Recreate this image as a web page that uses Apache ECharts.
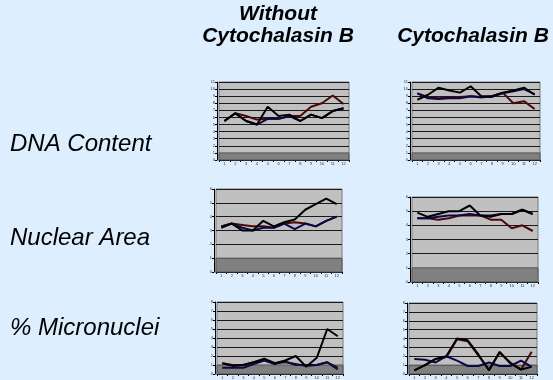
<!DOCTYPE html>
<html>
<head>
<meta charset="utf-8">
<script src="https://cdn.jsdelivr.net/npm/echarts@6/dist/echarts.min.js"></script>
<style>
  html, body { margin: 0; padding: 0; background: #DDEEFF; }
  #chart { width: 553px; height: 380px; }
</style>
</head>
<body>
<div id="chart"></div>
<script>
// Twelve sampling points along each x axis
const categories = ['1', '2', '3', '4', '5', '6', '7', '8', '9', '10', '11', '12'];

// Row and column captions
const rowLabels = ['DNA Content', 'Nuclear Area', '% Micronuclei'];
const columnLabels = ['Without\nCytochalasin B', 'Cytochalasin B'];

// Axis tops (value 0..1 on each axis is the floor band)
const dnaAxisMax = 11;
const areaAxisMax = 6;
const microAxisMax = 8;

// DNA content, without cytochalasin B
const dnaWithoutMaroon = [5.5, 6.6, 6.2, 5.7, 5.8, 5.8, 6.2, 6.2, 7.5, 8.0, 9.1, 7.9];
const dnaWithoutNavy   = [5.5, 6.6, 5.5, 5.0, 5.8, 5.8, 6.2, 5.5, 6.4, 5.9, 6.9, 7.3];
const dnaWithoutBlack  = [5.5, 6.6, 5.5, 5.0, 7.5, 6.2, 6.4, 5.5, 6.4, 5.9, 6.9, 7.3];

// DNA content, with cytochalasin B
const dnaCbMaroon = [9.4, 8.9, 8.7, 8.8, 8.9, 9.0, 8.8, 9.0, 9.5, 8.0, 8.3, 7.2];
const dnaCbNavy   = [9.4, 8.7, 8.6, 8.7, 8.7, 9.0, 8.9, 8.9, 9.4, 9.7, 10.0, 9.3];
const dnaCbBlack  = [8.5, 9.2, 10.2, 9.8, 9.5, 10.4, 9.0, 9.0, 9.5, 9.8, 10.2, 9.2];

// Nuclear area, without cytochalasin B
const areaWithoutMaroon = [3.3, 3.5, 3.4, 3.3, 3.3, 3.2, 3.5, 3.6, 3.5, 3.3, 3.7, 4.0];
const areaWithoutNavy   = [3.3, 3.5, 3.2, 3.0, 3.2, 3.2, 3.5, 3.1, 3.5, 3.3, 3.7, 4.0];
const areaWithoutBlack  = [3.2, 3.5, 3.0, 3.0, 3.7, 3.3, 3.6, 3.8, 4.5, 4.9, 5.3, 4.9];

// Nuclear area, with cytochalasin B
const areaCbMaroon = [4.5, 4.5, 4.4, 4.5, 4.7, 4.7, 4.7, 4.4, 4.4, 3.8, 4.0, 3.6];
const areaCbNavy   = [4.5, 4.5, 4.6, 4.7, 4.7, 4.8, 4.7, 4.7, 4.8, 4.8, 5.1, 4.8];
const areaCbBlack  = [4.9, 4.6, 4.8, 5.0, 5.0, 5.4, 4.7, 4.6, 4.8, 4.8, 5.1, 4.8];

// % micronuclei, without cytochalasin B
const microWithoutMaroon = [1.2, 1.0, 1.0, 1.3, 1.6, 1.2, 1.3, 1.1, 0.9, 1.0, 1.3, 0.7];
const microWithoutNavy   = [0.7, 0.7, 0.7, 1.1, 1.5, 1.1, 1.4, 1.0, 1.0, 1.0, 1.3, 0.5];
const microWithoutBlack  = [1.2, 0.9, 1.0, 1.3, 1.7, 1.2, 1.5, 2.0, 0.8, 1.8, 5.0, 4.2];

// % micronuclei, with cytochalasin B
const microCbMaroon = [0.4, 1.0, 1.7, 1.9, 3.9, 3.7, 2.1, 0.5, 2.4, 1.3, 0.5, 2.5];
const microCbNavy   = [1.7, 1.6, 1.3, 2.0, 1.5, 0.9, 0.9, 1.3, 0.9, 0.9, 1.5, 0.8];
const microCbBlack  = [0.4, 1.0, 1.7, 2.0, 4.0, 3.8, 2.2, 0.4, 2.5, 1.2, 0.5, 0.8];

const lineColors = ['#4a0808', '#08084a', '#000000'];

// Back-wall rectangles of the six small charts (grid includes the floor band)
const panels = [
  { grid: { left: 219, top: 82,  width: 130, height: 78 }, max: dnaAxisMax,   lines: [dnaWithoutMaroon, dnaWithoutNavy, dnaWithoutBlack] },
  { grid: { left: 412, top: 82,  width: 128, height: 78 }, max: dnaAxisMax,   lines: [dnaCbMaroon, dnaCbNavy, dnaCbBlack] },
  { grid: { left: 216, top: 189, width: 126, height: 83 }, max: areaAxisMax,  lines: [areaWithoutMaroon, areaWithoutNavy, areaWithoutBlack] },
  { grid: { left: 412, top: 197, width: 126, height: 85 }, max: areaAxisMax,  lines: [areaCbMaroon, areaCbNavy, areaCbBlack] },
  { grid: { left: 217, top: 302, width: 126, height: 81 }, max: microAxisMax, lines: [microWithoutMaroon, microWithoutNavy, microWithoutBlack] },
  { grid: { left: 409, top: 303, width: 128, height: 81 }, max: microAxisMax, lines: [microCbMaroon, microCbNavy, microCbBlack] }
];

const grids = [], xAxes = [], yAxes = [], series = [];

panels.forEach(function (p, i) {
  grids.push(Object.assign({
    show: true,
    backgroundColor: '#C0C0C0',
    borderColor: '#7a7a7a',
    borderWidth: 1
  }, p.grid));

  xAxes.push({
    type: 'category',
    gridIndex: i,
    data: categories,
    boundaryGap: true,
    axisLine: { show: true, lineStyle: { color: '#000', width: 1 } },
    axisTick: { show: true, length: 2, lineStyle: { color: '#000' } },
    axisLabel: { show: true, fontSize: 4, color: '#333', margin: 2, interval: 0 },
    splitLine: { show: false }
  });

  yAxes.push({
    type: 'value',
    gridIndex: i,
    min: 0,
    max: p.max,
    interval: 1,
    offset: 2,
    axisLine: { show: true, lineStyle: { color: '#000', width: 1 } },
    axisTick: { show: true, length: 2, lineStyle: { color: '#000' } },
    axisLabel: { show: true, fontSize: 4, color: '#333', margin: 2 },
    splitLine: { show: true, lineStyle: { color: '#1a1a1a', width: 1 } }
  });

  // Floor band in front of the back wall
  series.push({
    type: 'line',
    xAxisIndex: i,
    yAxisIndex: i,
    data: [],
    silent: true,
    z: 1,
    markArea: {
      silent: true,
      itemStyle: { color: '#808080', borderColor: '#555', borderWidth: 1 },
      data: [[{ yAxis: 0 }, { yAxis: 1 }]]
    }
  });

  p.lines.forEach(function (values, k) {
    series.push({
      type: 'line',
      xAxisIndex: i,
      yAxisIndex: i,
      data: values,
      symbol: 'none',
      clip: false,
      z: 3 + k,
      lineStyle: { color: lineColors[k], width: 2 },
      animation: false
    });
  });
});

const chart = echarts.init(document.getElementById('chart'), null, { renderer: 'canvas' });

const rowY = [145, 239, 329];
const labelFont = 'Liberation Sans, Arial, sans-serif';

const graphics = [];
rowLabels.forEach(function (t, r) {
  graphics.push({
    type: 'text',
    left: 10,
    top: rowY[r] - 13,
    style: { text: t, font: 'italic 24px ' + labelFont, fill: '#000' }
  });
});
graphics.push({
  type: 'text',
  x: 278, y: 3,
  style: { text: columnLabels[0], font: 'italic bold 21px ' + labelFont, fill: '#000', textAlign: 'center', lineHeight: 22 }
});
graphics.push({
  type: 'text',
  x: 473, y: 25,
  style: { text: columnLabels[1], font: 'italic bold 21px ' + labelFont, fill: '#000', textAlign: 'center', lineHeight: 22 }
});

chart.setOption({
  backgroundColor: '#DDEEFF',
  animation: false,
  grid: grids,
  xAxis: xAxes,
  yAxis: yAxes,
  series: series,
  graphic: graphics
});
</script>
</body>
</html>
